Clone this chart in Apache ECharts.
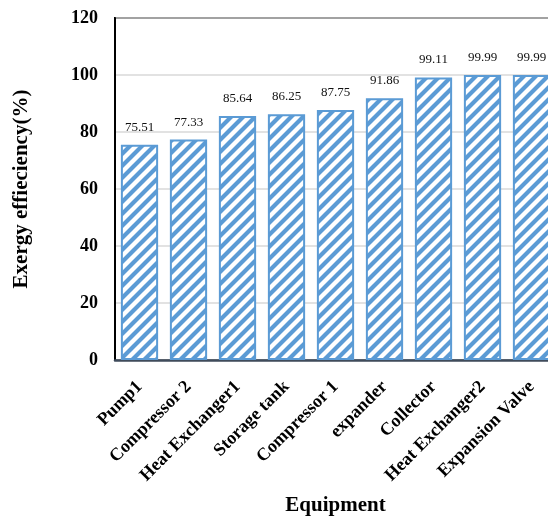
<!DOCTYPE html>
<html>
<head>
<meta charset="utf-8">
<script src="https://cdn.jsdelivr.net/npm/echarts@6/dist/echarts.min.js"></script>
<style>html,body{margin:0;padding:0;background:#fff;}#c{width:548px;height:519px;}</style>
</head>
<body>
<div id="c"></div>
<script>
var categories = ['Pump1', 'Compressor 2', 'Heat Exchanger1', 'Storage tank', 'Compressor 1', 'expander', 'Collector', 'Heat Exchanger2', 'Expansion Valve'];
var values = [75.51, 77.33, 85.64, 86.25, 87.75, 91.86, 99.11, 99.99, 99.99];
var yTicks = [0, 20, 40, 60, 80, 100, 120];

var BLUE = '#5B9BD5';
function makePattern() {
  var s = 12;
  var cv = document.createElement('canvas');
  cv.width = s; cv.height = s;
  var ctx = cv.getContext('2d');
  ctx.fillStyle = '#fff';
  ctx.fillRect(0, 0, s, s);
  ctx.strokeStyle = BLUE;
  ctx.lineWidth = 4.2;
  ctx.lineCap = 'square';
  ctx.beginPath();
  ctx.moveTo(-s, s * 2); ctx.lineTo(s * 2, -s);
  ctx.moveTo(-s, s); ctx.lineTo(s, -s);
  ctx.moveTo(0, s * 2); ctx.lineTo(s * 2, 0);
  ctx.stroke();
  return cv;
}

var font = 'Liberation Serif, Times New Roman, serif';
var chart = echarts.init(document.getElementById('c'), null, {renderer: 'canvas'});
chart.setOption({
  animation: false,
  backgroundColor: '#fff',
  grid: {left: 115, right: -8, top: 18, bottom: 159, containLabel: false, outerBoundsMode: 'none',
    show: true, borderColor: '#000', borderWidth: 2, backgroundColor: 'transparent'},
  xAxis: {
    type: 'category',
    data: categories,
    name: 'Equipment',
    nameLocation: 'middle',
    nameGap: 135,
    nameTextStyle: {fontFamily: font, fontWeight: 'bold', fontSize: 21, color: '#000'},
    axisLine: {lineStyle: {color: '#3f4b5b', width: 2.5}},
    axisTick: {show: false},
    axisLabel: {interval: 0, rotate: 45, margin: 24, fontFamily: font, fontWeight: 'bold', fontSize: 18, color: '#000'}
  },
  yAxis: {
    type: 'value',
    min: 0, max: 120, interval: 20,
    name: 'Exergy effieciency(%)',
    nameLocation: 'middle',
    nameGap: 83,
    nameTextStyle: {fontFamily: font, fontWeight: 'bold', fontSize: 21, color: '#000'},
    axisLine: {show: true, lineStyle: {color: '#000', width: 2}},
    axisTick: {show: false},
    splitLine: {lineStyle: {color: '#d9d9d9', width: 1.5}},
    axisLabel: {margin: 17, fontFamily: font, fontWeight: 'bold', fontSize: 18, color: '#000',
      formatter: function (v) { return yTicks.indexOf(v) >= 0 ? String(v) : ''; }}
  },
  series: [{
    type: 'bar',
    data: values,
    barCategoryGap: '24%',
    itemStyle: {
      color: {image: makePattern(), repeat: 'repeat'},
      borderColor: BLUE,
      borderWidth: 2
    },
    label: {
      show: true, position: 'top', distance: 11,
      fontFamily: font, fontSize: 13, color: '#111',
      formatter: function (p) { return p.value.toFixed(2); }
    }
  }]
});
</script>
</body>
</html>
